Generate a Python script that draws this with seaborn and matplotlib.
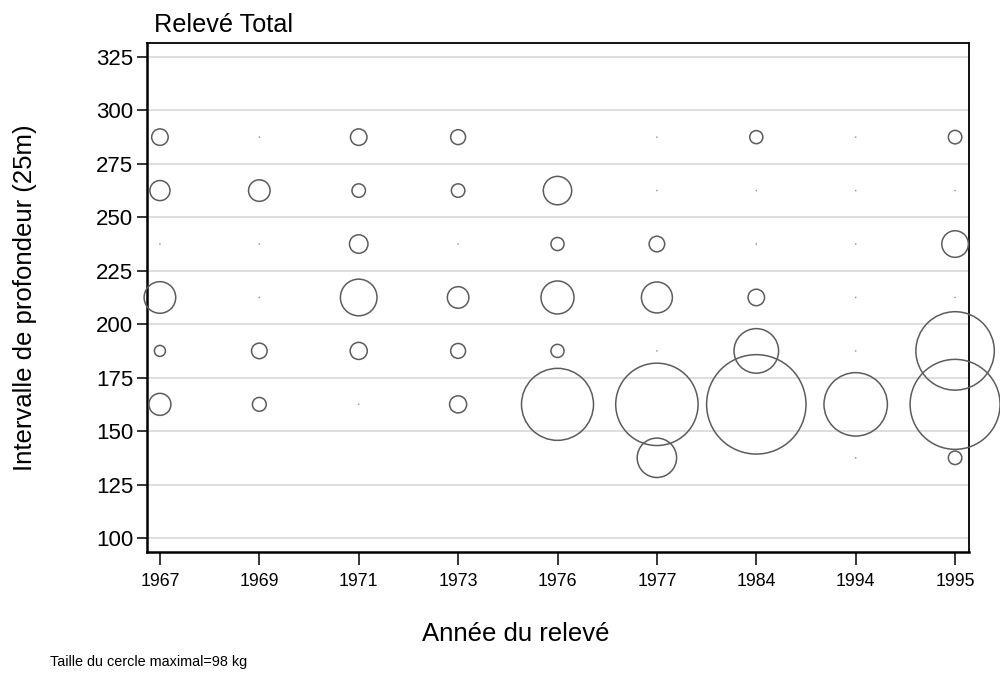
import numpy as np
import pandas as pd
import matplotlib
matplotlib.use("Agg")
import matplotlib.pyplot as plt
import seaborn as sns

# survey years (categorical axis) and depth-interval midpoints
years = ["1967", "1969", "1971", "1973", "1976", "1977", "1984", "1994", "1995"]
depths = [137.5, 162.5, 187.5, 212.5, 237.5, 262.5, 287.5]

# catch (kg) per depth interval, same order as `depths`; None = no tow
kg_1967 = [None, 4.8, 1.2, 9.9, 0, 4.0, 2.7]
kg_1969 = [None, 1.9, 2.4, 0, 0, 4.6, 0]
kg_1971 = [None, 0, 2.9, 13.3, 3.4, 1.8, 2.7]
kg_1973 = [None, 2.9, 2.2, 4.6, 0, 1.8, 2.2]
kg_1976 = [None, 51.4, 1.7, 10.8, 1.7, 8.0, None]
kg_1977 = [15.4, 67.3, 0, 9.5, 2.4, 0, 0]
kg_1984 = [None, 98.0, 19.7, 2.7, 0, 0, 1.7]
kg_1994 = [0, 39.9, 0, 0, 0, 0, 0]
kg_1995 = [1.8, 80.3, 61.0, 0, 7.0, 0, 1.8]

y_ticks = [100, 125, 150, 175, 200, 225, 250, 275, 300, 325]
max_kg = 98

catches = [kg_1967, kg_1969, kg_1971, kg_1973, kg_1976,
           kg_1977, kg_1984, kg_1994, kg_1995]
rows = []
for i, (yr, vals) in enumerate(zip(years, catches)):
    for d, v in zip(depths, vals):
        if v is not None:
            rows.append({"pos": i, "year": yr, "depth": d, "kg": v})
df = pd.DataFrame(rows)
pos_df = df[df["kg"] > 0]
zero_df = df[df["kg"] == 0]

sns.set_theme(style="white")
plt.rcParams["font.family"] = ["Liberation Sans", "DejaVu Sans"]
plt.rcParams["text.color"] = "black"
plt.rcParams["xtick.color"] = "black"
plt.rcParams["ytick.color"] = "black"

fig = plt.figure(figsize=(10, 6.73), dpi=100)
ax = fig.add_axes([0.147, 0.180, 0.822, 0.756])

for t in y_ticks:
    ax.axhline(t, color="#dedede", lw=1.4, zorder=0)

# area proportional to kg, biggest circle = 98 kg
s_max = (99.4 * 0.72) ** 2
sns.scatterplot(data=pos_df, x="pos", y="depth", size="kg",
                sizes=(0, s_max), size_norm=(0, max_kg), legend=False,
                marker="o", facecolors="none", edgecolors="#5c5c5c",
                linewidth=1.1, clip_on=False, zorder=3, ax=ax)
sns.scatterplot(data=zero_df, x="pos", y="depth", s=1.5, color="#9a9a9a",
                edgecolor="none", legend=False, zorder=3, ax=ax)

ax.set_xlim(-0.13, 8.14)
ax.set_ylim(93.5, 331.5)
ax.set_xticks(range(len(years)))
ax.set_xticklabels(years, fontsize=12.8)
ax.set_yticks(y_ticks)
ax.set_yticklabels([str(t) for t in y_ticks], fontsize=16)
ax.tick_params(axis="x", direction="out", length=9, width=1.1, color="black",
               labelcolor="black", pad=6, bottom=True)
ax.tick_params(axis="y", direction="out", length=7, width=1.1, color="black",
               labelcolor="black", pad=3, left=True)
ax.set_xlabel(""); ax.set_ylabel("")
for side in ["left", "bottom", "top", "right"]:
    ax.spines[side].set_visible(True)
    ax.spines[side].set_color("black")
    ax.spines[side].set_linewidth(1.3)
ax.spines["left"].set_linewidth(1.8)
ax.spines["bottom"].set_linewidth(1.8)

fig.text(0.154, 0.952, "Relevé Total", fontsize=18.2, ha="left",
         va="baseline", color="black")
fig.text(0.025, 0.558, "Intervalle de profondeur (25m)", fontsize=18.5,
         rotation=90, ha="center", va="center", color="black")
fig.text(0.516, 0.058, "Année du relevé", fontsize=18.5, ha="center",
         va="center", color="black")
fig.text(0.05, 0.016, "Taille du cercle maximal=98 kg", fontsize=10.4,
         ha="left", va="center", color="black")

fig.savefig("out.png", dpi=100)
